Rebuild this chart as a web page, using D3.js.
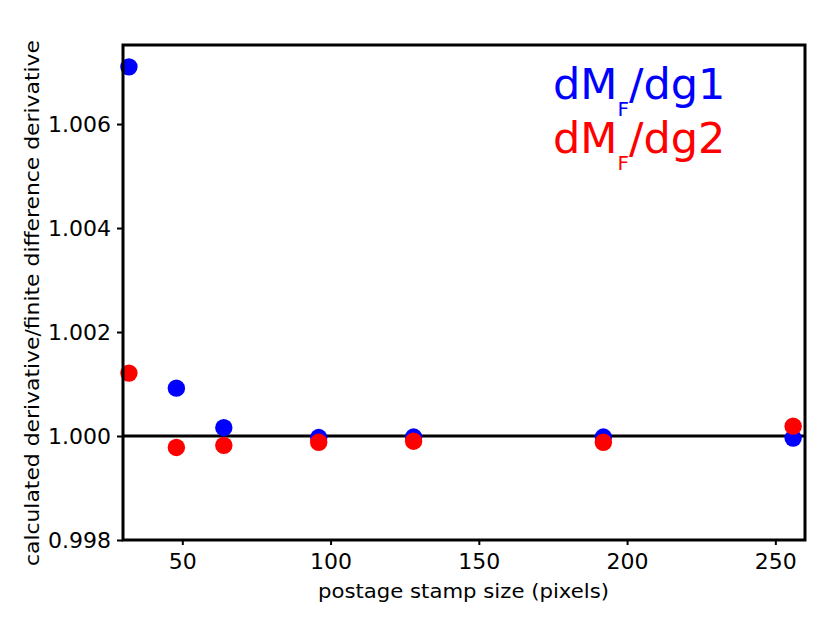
<!DOCTYPE html>
<html>
<head>
<meta charset="utf-8">
<script src="https://cdn.jsdelivr.net/npm/d3@7"></script>
<style>
  html, body { margin: 0; padding: 0; background: #fff; }
  svg { display: block; }
</style>
</head>
<body>
<svg id="chart" width="830" height="622"></svg>
<script>
// ---- data ----
const sizes = [32, 48, 64, 96, 128, 192, 256];
const dg1 = [1.00710, 1.00092, 1.00016, 0.99997, 0.99998, 0.99998, 0.99996];
const dg2 = [1.00121, 0.99978, 0.99982, 0.99988, 0.99990, 0.99988, 1.00019];
const xTicks = [50, 100, 150, 200, 250];
const yTicks = [0.998, 1.000, 1.002, 1.004, 1.006];
const refValue = 1.0;
const xLabel = "postage stamp size (pixels)";
const yLabel = "calculated derivative/finite difference derivative";

// ---- layout ----
const svg = d3.select("#chart");
const L = 123, R = 805, T = 45, B = 540;
const x = d3.scaleLinear().domain([30, 260]).range([L, R]);
const y = d3.scaleLinear().domain([0.998, 1.00752]).range([B, T]);

// reference line
svg.append("line")
  .attr("x1", x(30)).attr("x2", x(260))
  .attr("y1", y(refValue)).attr("y2", y(refValue))
  .attr("stroke", "#000").attr("stroke-width", 3);

// points
svg.append("g").selectAll("circle").data(sizes.map((s, i) => [s, dg1[i]]))
  .join("circle")
  .attr("cx", d => x(d[0])).attr("cy", d => y(d[1])).attr("r", 8.7)
  .attr("fill", "#0000ff");
svg.append("g").selectAll("circle").data(sizes.map((s, i) => [s, dg2[i]]))
  .join("circle")
  .attr("cx", d => x(d[0])).attr("cy", d => y(d[1])).attr("r", 8.7)
  .attr("fill", "#ff0000");

// axes
const xAxis = svg.append("g").attr("transform", `translate(0,${B})`)
  .call(d3.axisBottom(x).tickValues(xTicks).tickSize(5).tickPadding(8).tickFormat(d3.format("d")));
xAxis.select(".domain").remove();
xAxis.selectAll("line").attr("stroke-width", 2);
xAxis.selectAll("text").attr("font-family", "'DejaVu Sans'")
  .attr("font-size", 22).attr("fill", "#000");

const yAxis = svg.append("g").attr("transform", `translate(${L},0)`)
  .call(d3.axisLeft(y).tickValues(yTicks).tickSize(6).tickPadding(6).tickFormat(d3.format(".3f")));
yAxis.select(".domain").remove();
yAxis.selectAll("line").attr("stroke-width", 2);
yAxis.selectAll("text").attr("font-family", "'DejaVu Sans'").attr("font-size", 22).attr("fill", "#000");

// frame
svg.append("rect").attr("x", L).attr("y", T).attr("width", R - L).attr("height", B - T)
  .attr("fill", "none").attr("stroke", "#000").attr("stroke-width", 3);

// axis labels
svg.append("text").attr("x", (318 + 609) / 2).attr("y", 598)
  .attr("text-anchor", "middle").attr("font-family", "'DejaVu Sans'").attr("font-size", 19)
  .attr("textLength", 291).attr("lengthAdjust", "spacingAndGlyphs")
  .text(xLabel);
svg.append("text").attr("transform", "translate(39,303) rotate(-90)")
  .attr("text-anchor", "middle").attr("font-family", "'DejaVu Sans'").attr("font-size", 19)
  .attr("textLength", 526).attr("lengthAdjust", "spacingAndGlyphs")
  .text(yLabel);

// legend text
const legend = [
  { color: "#0000ff", num: "1", y: 99 },
  { color: "#ff0000", num: "2", y: 153 }
];
legend.forEach(l => {
  const t = svg.append("text").attr("x", 553).attr("y", l.y)
    .attr("font-family", "'DejaVu Sans'").attr("font-size", 43).attr("fill", l.color);
  t.append("tspan").text("dM");
  t.append("tspan").attr("font-size", 20).attr("dy", 17).text("F");
  t.append("tspan").attr("dy", -17).text("/dg" + l.num);
});
</script>
</body>
</html>
